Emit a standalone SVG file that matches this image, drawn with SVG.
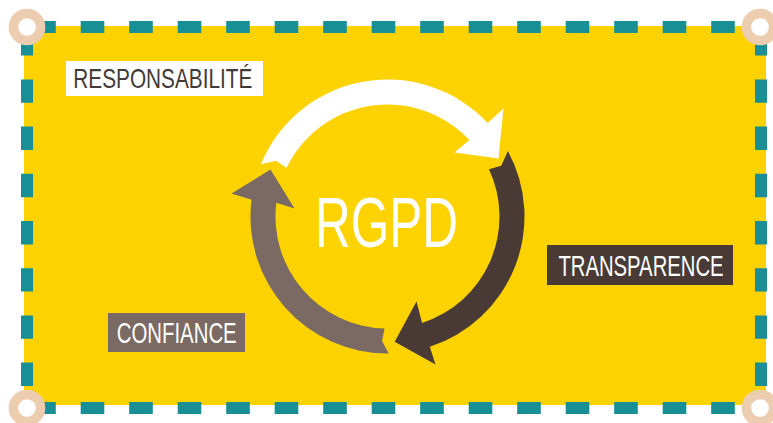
<svg xmlns="http://www.w3.org/2000/svg" width="773" height="423" viewBox="0 0 773 423">
<style>
.lbl{font-family:"Liberation Sans",Arial,sans-serif;text-anchor:middle;}
.dh{fill:none;stroke:#178F95;stroke-width:12;stroke-dasharray:23.6 24.9;stroke-dashoffset:43.3;}
.dv{fill:none;stroke:#178F95;stroke-width:12;stroke-dasharray:23.4 23.8;stroke-dashoffset:42;}
.hd{fill:#FFFFFF;stroke:#ECCDB0;stroke-width:9.5;}
</style>
<rect width="773" height="423" fill="#FFFFFF"/>
<rect id="panel" x="24" y="26" width="742" height="379" fill="#FCD300"/>
<g id="cycle">
<path id="arrow-white" fill="#FFFFFF" d="M260.84,164.29 A137,137 0 0 1 487.70,123.07 L503.5,108.5 L498.5,158.5 L454.5,152.5 L469.42,140.12 A112,112 0 0 0 286.58,167.93 L276.17,160.75 Z"/>
<path id="arrow-dark" fill="#493A36" d="M507.90,151.12 A137,137 0 0 1 429.83,346.80 L435.5,364.5 L394.70,341.8 L416.5,301.5 L422.11,323.02 A112,112 0 0 0 489.01,169.17 L501.23,165.86 Z"/>
<path id="arrow-gray" fill="#7A6A63" d="M388.70,353.49 A137,137 0 0 1 251.52,199.80 L231.5,193.5 L270.5,169.5 L294.5,208.5 L276.34,202.85 A112,112 0 0 0 384.57,328.46 L382.07,340.88 Z"/>
</g>
<g id="rgpd">
<text class="lbl" transform="translate(386.5,246.7) scale(0.7,1)" font-size="70" fill="#FFFFFF" textLength="204" lengthAdjust="spacingAndGlyphs">RGPD</text>
</g>
<g id="responsabilite">
<rect x="66" y="61" width="197" height="35" fill="#FFFFFF"/>
<text class="lbl" transform="translate(162.8,87.7) scale(0.7,1)" font-size="27" fill="#433939" textLength="255.7" lengthAdjust="spacingAndGlyphs">RESPONSABILITÉ</text>
</g>
<g id="transparence">
<rect x="547" y="245" width="186" height="40" fill="#493A36"/>
<text class="lbl" transform="translate(641,276) scale(0.7,1)" font-size="29" fill="#FFFFFF" textLength="236" lengthAdjust="spacingAndGlyphs">TRANSPARENCE</text>
</g>
<g id="confiance">
<rect x="108" y="313" width="137" height="39" fill="#7A6A63"/>
<text class="lbl" transform="translate(176.7,342.7) scale(0.7,1)" font-size="29" fill="#FFFFFF" textLength="171.4" lengthAdjust="spacingAndGlyphs">CONFIANCE</text>
</g>
<g id="border">
<line class="dh" x1="27" y1="27" x2="760" y2="27"/>
<line class="dh" x1="27" y1="408" x2="760" y2="408"/>
<line class="dv" x1="27" y1="27" x2="27" y2="408"/>
<line class="dv" x1="761" y1="27" x2="761" y2="408"/>
</g>
<g id="handles">
<circle class="hd" cx="27" cy="27" r="13.6"/>
<circle class="hd" cx="760" cy="27" r="13.6"/>
<circle class="hd" cx="27" cy="408" r="13.6"/>
<circle class="hd" cx="760" cy="408" r="13.6"/>
</g>
</svg>
